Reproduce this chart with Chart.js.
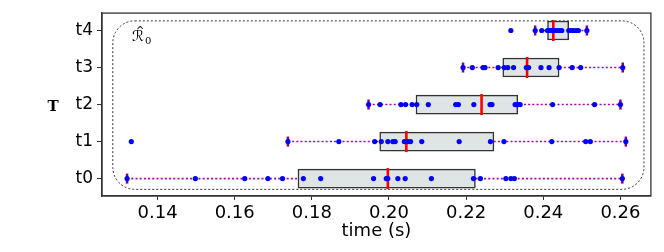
<!DOCTYPE html>
<html>
<head>
<meta charset="utf-8">
<script src="https://cdn.jsdelivr.net/npm/chart.js@4"></script>
<style>
  body { margin: 0; background: #fff; }
</style>
</head>
<body>
<canvas id="myChart" width="664" height="252"></canvas>
<script>
// filas y ticks
const rowLabels = ['t0', 't1', 't2', 't3', 't4'];
const xTicks = [0.14, 0.16, 0.18, 0.20, 0.22, 0.24, 0.26];

// tiempos medidos por fila
const t0 = [0.1321, 0.1498, 0.1626, 0.1686, 0.1724, 0.1778, 0.1823, 0.1960, 0.1993, 0.1997, 0.2023, 0.2042, 0.2110, 0.2219, 0.2237, 0.2303, 0.2316, 0.2325, 0.2605];
const t1 = [0.1332, 0.1738, 0.1870, 0.1963, 0.1980, 0.1997, 0.2010, 0.2016, 0.2040, 0.2049, 0.2056, 0.2085, 0.2182, 0.2263, 0.2298, 0.2422, 0.2510, 0.2522, 0.2614];
const t2 = [0.1947, 0.1977, 0.2031, 0.2043, 0.2060, 0.2072, 0.2102, 0.2173, 0.2180, 0.2220, 0.2262, 0.2267, 0.2327, 0.2331, 0.2334, 0.2340, 0.2424, 0.2533, 0.2600];
const t3 = [0.2192, 0.2216, 0.2244, 0.2249, 0.2283, 0.2299, 0.2308, 0.2323, 0.2356, 0.2362, 0.2394, 0.2415, 0.2441, 0.2475, 0.2497, 0.2606];
const t4 = [0.2316, 0.2379, 0.2396, 0.2411, 0.2414, 0.2418, 0.2422, 0.2426, 0.2430, 0.2437, 0.2443, 0.2448, 0.2466, 0.2472, 0.2478, 0.2485, 0.2491, 0.2513];

// estadisticas de las cajas
const q1 = [0.1764, 0.1976, 0.2070, 0.2295, 0.2411];
const medians = [0.1997, 0.2045, 0.2240, 0.2358, 0.2426];
const q3 = [0.2224, 0.2272, 0.2334, 0.2441, 0.2466];
const whiskLo = [0.1321, 0.1738, 0.1947, 0.2192, 0.2379];
const whiskHi = [0.2605, 0.2614, 0.2600, 0.2606, 0.2513];

const rows = [t0, t1, t2, t3, t4];

const ctx = document.getElementById('myChart');

// marco, rectangulo punteado, etiqueta R y titulo T
const extras = {
    id: 'extras',
    afterDraw(chart) {
        const c = chart.ctx;
        const x = chart.scales.x, y = chart.scales.y;
        const a = chart.chartArea;
        c.save();
        // rectangulo redondeado punteado
        const l = x.getPixelForValue(0.1284), r = x.getPixelForValue(0.2661);
        const t = y.getPixelForValue(4.26), b = y.getPixelForValue(-0.29);
        c.setLineDash([2, 2]);
        c.strokeStyle = '#333';
        c.lineWidth = 1;
        c.beginPath();
        c.roundRect(l, t, r - l, b - t, 22);
        c.stroke();
        c.setLineDash([]);
        // marco del grafico
        c.strokeStyle = '#333';
        c.lineWidth = 1.3;
        c.strokeRect(a.left, a.top, a.right - a.left, a.bottom - a.top);
        // etiqueta R sombrero sub 0
        c.fillStyle = '#000';
        c.textBaseline = 'alphabetic';
        c.font = '15px "DejaVu Sans"';
        c.fillText('ℛ', 132, 41);
        c.font = '10px "DejaVu Sans"';
        c.fillText('^', 136, 34);
        c.font = '10px "DejaVu Serif"';
        c.fillText('0', 145, 44);
        // titulo eje y sin rotar
        c.font = 'bold 15px "DejaVu Serif"';
        c.textAlign = 'center';
        c.textBaseline = 'middle';
        c.fillText('T', 53, 107);
        c.restore();
    }
};

new Chart(ctx, {
    type: 'scatter',
    data: {
        datasets: [
            {
                label: 'puntos',
                data: rows.flatMap((vals, i) => vals.map(v => ({ x: v, y: i }))),
                pointRadius: 2.6,
                pointBackgroundColor: '#0000ff',
                pointBorderWidth: 0,
                order: 0
            },
            {
                label: 'mediana',
                data: medians.map((v, i) => ({ x: v, y: i })),
                pointStyle: 'line',
                rotation: 90,
                pointRadius: 10.5,
                pointBorderColor: '#ff0000',
                pointBorderWidth: 2.6,
                order: 1
            },
            {
                type: 'bar',
                label: 'cajas',
                indexAxis: 'y',
                data: q1.map((v, i) => ({ y: i, x: [v, q3[i]] })),
                backgroundColor: '#dfe5e5',
                borderColor: '#333',
                borderWidth: 1.5,
                borderSkipped: false,
                barThickness: 19,
                order: 2
            },
            {
                label: 'topes',
                data: whiskLo.flatMap((v, i) => [{ x: v, y: i }, { x: whiskHi[i], y: i }]),
                pointStyle: 'line',
                rotation: 90,
                pointRadius: 5,
                pointBorderColor: '#800080',
                pointBorderWidth: 2.5,
                order: 3
            },
            ...rowLabels.map((lab, i) => ({
                label: 'bigote ' + lab,
                data: [{ x: whiskLo[i], y: i }, { x: whiskHi[i], y: i }],
                showLine: true,
                borderColor: '#b000b0',
                borderWidth: 1.6,
                borderDash: [2, 2.2],
                pointRadius: 0,
                order: 4
            }))
        ]
    },
    options: {
        responsive: false,
        animation: false,
        events: [],
        layout: { padding: { left: 43, right: 9, top: 7, bottom: 0 } },
        plugins: {
            legend: { display: false },
            tooltip: { enabled: false }
        },
        scales: {
            x: {
                type: 'linear',
                min: 0.1256,
                max: 0.2679,
                offset: false,
                afterBuildTicks: s => { s.ticks = xTicks.map(v => ({ value: v })); },
                afterFit: s => {
                    s.height = 56;
                    s.paddingLeft = 0; s.paddingRight = 0;
                },
                ticks: {
                    color: '#000',
                    font: { family: 'DejaVu Sans', size: 18 },
                    padding: 3,
                    maxRotation: 0,
                    callback: v => v.toFixed(2)
                },
                grid: { drawOnChartArea: false, tickLength: 4, color: '#333', offset: false },
                border: { color: '#333', width: 1.3 },
                title: {
                    display: true,
                    text: 'time (s)',
                    color: '#000',
                    font: { family: 'DejaVu Sans', size: 18 },
                    padding: { top: 0, bottom: 10 }
                }
            },
            y: {
                type: 'linear',
                min: -0.47,
                max: 4.47,
                offset: false,
                afterBuildTicks: s => { s.ticks = rowLabels.map((l, i) => ({ value: i })); },
                afterFit: s => {
                    s.width = 59;
                    s.paddingTop = 0; s.paddingBottom = 0;
                },
                ticks: {
                    color: '#000',
                    font: { family: 'DejaVu Sans', size: 17 },
                    padding: 4,
                    callback: v => rowLabels[v]
                },
                grid: { drawOnChartArea: false, tickLength: 5, color: '#333', offset: false },
                border: { color: '#333', width: 1.3 }
            }
        }
    },
    plugins: [extras]
});
</script>
</body>
</html>
